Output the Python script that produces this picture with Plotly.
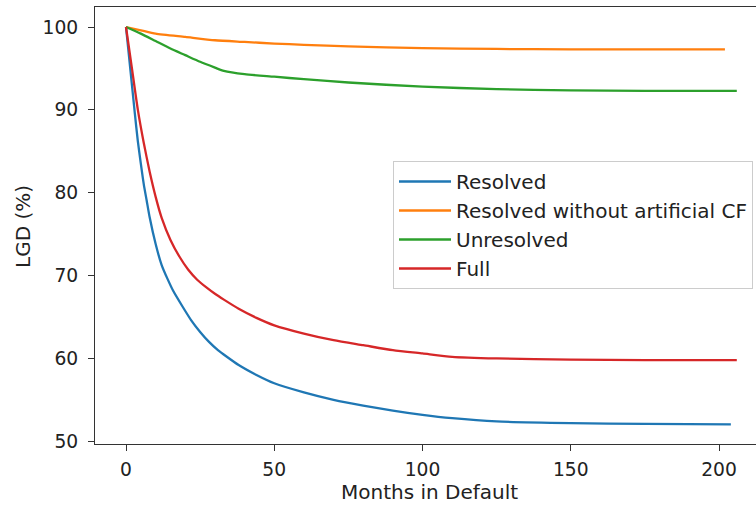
import plotly.graph_objects as go

# LGD term structure by months in default (values in %)
months_resolved = [0, 1, 2, 3, 4, 5, 6, 7, 8, 10, 12, 14, 16, 19, 22, 25, 28, 31, 34, 38, 44, 50,
                   60, 70, 80, 90, 100, 110, 125, 150, 175, 204]
lgd_resolved = [100, 96.5, 93.0, 89.5, 86.2, 83.5, 81.0, 79.0, 77.0, 73.8, 71.3, 69.6, 68.1, 66.3,
                64.6, 63.2, 62.0, 61.0, 60.2, 59.2, 58.0, 57.0,
                55.9, 55.0, 54.3, 53.7, 53.2, 52.8, 52.4, 52.2, 52.1, 52.05]

months_no_cf = [0, 5, 10, 20, 30, 40, 50, 60, 75, 100, 125, 150, 175, 202]
lgd_no_cf = [100, 99.6, 99.2, 98.8, 98.4, 98.2, 98.0, 97.85, 97.65, 97.45, 97.35, 97.3, 97.3, 97.3]

months_unresolved = [0, 5, 10, 15, 20, 25, 30, 33, 40, 50, 60, 75, 100, 125, 150, 175, 206]
lgd_unresolved = [100, 99.2, 98.3, 97.4, 96.6, 95.8, 95.1, 94.7, 94.3, 94.0, 93.7, 93.3, 92.8,
                  92.5, 92.35, 92.3, 92.3]

months_full = [0, 2, 4, 6, 8, 10, 12, 15, 18, 21, 24, 27, 30, 33, 38, 44, 50,
               60, 70, 80, 90, 100, 110, 125, 150, 175, 206]
lgd_full = [100, 95.0, 90.0, 86.0, 82.5, 79.5, 77.0, 74.3, 72.3, 70.7, 69.5, 68.6, 67.8, 67.1,
            66.0, 64.9, 64.0, 63.0, 62.2, 61.6, 61.0, 60.6, 60.2, 60.0, 59.85, 59.8, 59.8]

series = [
    ("Resolved", months_resolved, lgd_resolved, "#1f77b4"),
    ("Resolved without artificial CF", months_no_cf, lgd_no_cf, "#ff7f0e"),
    ("Unresolved", months_unresolved, lgd_unresolved, "#2ca02c"),
    ("Full", months_full, lgd_full, "#d62728"),
]

x_ticks = [0, 50, 100, 150, 200]
y_ticks = [50, 60, 70, 80, 90, 100]

W, H = 756, 508
L, R, T, B = 95, 0, 7, 64
FONT = "DejaVu Sans"
TXT = "#222222"
AX = "#333333"
TICK_SIZE = 18.7
LABEL_SIZE = 20

fig = go.Figure()
for name, xs, ys, col in series:
    fig.add_trace(go.Scatter(
        x=xs, y=ys, mode="lines", name=name,
        line=dict(color=col, width=2.3, shape="spline", smoothing=0.6),
    ))

fig.update_layout(
    width=W, height=H,
    margin=dict(l=L, r=R, t=T, b=B, pad=0),
    paper_bgcolor="white", plot_bgcolor="white",
    font=dict(family=FONT, color=TXT, size=TICK_SIZE),
    showlegend=True,
    legend=dict(
        x=(393 - L) / (W - L - R), y=1 - (161 - T) / (H - T - B),
        xanchor="left", yanchor="top",
        bgcolor="rgba(255,255,255,0.8)", bordercolor="#cccccc", borderwidth=1,
        font=dict(family=FONT, size=LABEL_SIZE, color=TXT),
        itemwidth=52,
    ),
    xaxis=dict(
        range=[(L - 126) / 2.965, (W - 126) / 2.965],
        tickmode="array", tickvals=x_ticks, ticktext=[str(v) for v in x_ticks],
        showgrid=False, zeroline=False,
        showline=True, linecolor=AX, linewidth=1, mirror=True,
        ticks="outside", ticklen=6, tickwidth=1, tickcolor=AX,
        tickfont=dict(family=FONT, size=TICK_SIZE, color=TXT),
        ticklabelstandoff=3,
    ),
    yaxis=dict(
        range=[100 - (444 - 27) / 8.286, 100 + (27 - 7) / 8.286],
        tickmode="array", tickvals=y_ticks, ticktext=[str(v) for v in y_ticks],
        showgrid=False, zeroline=False,
        showline=True, linecolor=AX, linewidth=1,
        ticks="outside", ticklen=6, tickwidth=1, tickcolor=AX,
        tickfont=dict(family=FONT, size=TICK_SIZE, color=TXT),
        ticklabelstandoff=6,
    ),
    annotations=[
        dict(text="Months in Default", xref="paper", yref="paper",
             x=(429.5 - L) / (W - L - R), y=-(492 - (H - B)) / (H - T - B),
             xanchor="center", yanchor="middle", showarrow=False,
             font=dict(family=FONT, size=LABEL_SIZE, color=TXT)),
        dict(text="LGD (%)", xref="paper", yref="paper",
             x=-(L - 23) / (W - L - R), y=1 - (227 - T) / (H - T - B),
             xanchor="center", yanchor="middle", showarrow=False, textangle=-90,
             font=dict(family=FONT, size=LABEL_SIZE, color=TXT)),
    ],
)

fig.write_html("out.html")
